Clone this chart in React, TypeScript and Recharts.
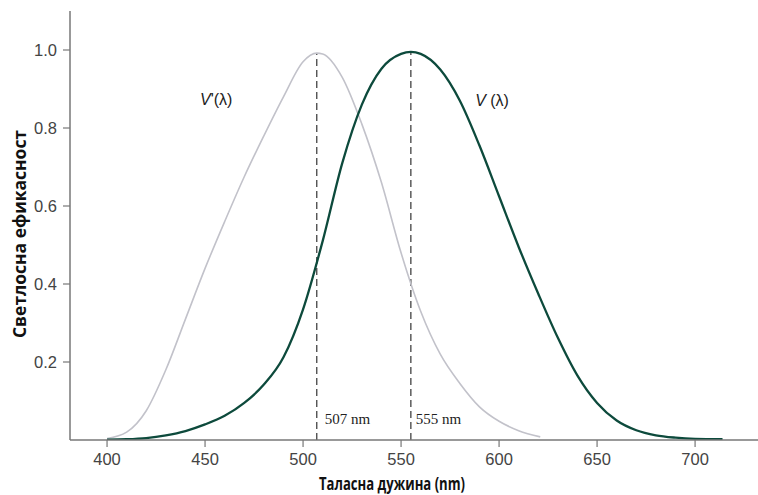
import React from 'react';
import { LineChart, Line, XAxis, YAxis, ReferenceLine, ReferenceDot } from 'recharts';

// photopic curve V(λ)
const photopicNm = [400, 410, 420, 430, 440, 450, 460, 470, 480, 490, 500, 510, 520, 530, 540, 550, 555, 560, 570, 580, 590, 600, 610, 620, 630, 640, 650, 660, 670, 680, 690, 700, 714];
const photopicV = [0.001, 0.002, 0.005, 0.012, 0.023, 0.04, 0.062, 0.095, 0.142, 0.212, 0.335, 0.51, 0.71, 0.86, 0.952, 0.99, 0.995, 0.99, 0.95, 0.87, 0.755, 0.625, 0.495, 0.375, 0.262, 0.165, 0.095, 0.05, 0.025, 0.012, 0.006, 0.003, 0.002];

// scotopic curve V'(λ)
const scotopicNm = [400, 410, 420, 430, 440, 450, 460, 470, 480, 490, 500, 507, 510, 520, 530, 540, 550, 560, 570, 580, 590, 600, 610, 621];
const scotopicV = [0.004, 0.02, 0.075, 0.18, 0.31, 0.44, 0.56, 0.675, 0.78, 0.88, 0.97, 0.992, 0.99, 0.93, 0.81, 0.66, 0.48, 0.33, 0.22, 0.145, 0.085, 0.048, 0.024, 0.008];

const xTicks = [400, 450, 500, 550, 600, 650, 700];
const yTicks = [0.2, 0.4, 0.6, 0.8, 1.0];

const photopic = photopicNm.map((nm, i) => ({ nm, v: photopicV[i] }));
const scotopic = scotopicNm.map((nm, i) => ({ nm, v: scotopicV[i] }));

const sans = "'Liberation Sans', Arial, sans-serif";
const bold = "'Open Sans', 'DejaVu Sans', sans-serif";

const curveLabel = (prime: boolean) => (props: any) => (
  <text x={props.cx} y={props.cy} fontSize={16} fontFamily={sans} fill="#222">
    <tspan fontStyle="italic">V</tspan>
    {prime ? "'(λ)" : ' (λ)'}
  </text>
);

const nmLabel = (txt: string, dx: number) => (props: any) => (
  <text x={props.cx + dx} y={props.cy} fontSize={15} fontFamily="'Liberation Serif', 'Times New Roman', serif" fill="#222">
    {txt}
  </text>
);

export default function App() {
  return (
    <div style={{ position: 'absolute', left: 0, top: 0, background: '#fff' }}>
      <LineChart width={758} height={495} margin={{ top: 11, right: 0, bottom: 0, left: 0 }}>
        <XAxis
          type="number"
          dataKey="nm"
          domain={[381.1, 732.1]}
          ticks={xTicks}
          allowDataOverflow
          height={55}
          tickSize={7}
          tickMargin={6}
          axisLine={{ stroke: '#777', strokeWidth: 1.5 }}
          tickLine={{ stroke: '#777', strokeWidth: 1.2 }}
          tick={{ fill: '#444', fontSize: 16.5, fontFamily: sans }}
          label={{
            content: () => (
              <text x={392} y={490} textAnchor="middle" fontSize={18} fontWeight="bold" fontFamily={bold} fill="#111" textLength={146} lengthAdjust="spacingAndGlyphs">
                Таласна дужина (nm)
              </text>
            ),
          }}
        />
        <YAxis
          type="number"
          domain={[0, 1.1]}
          ticks={yTicks}
          allowDataOverflow
          width={70}
          tickSize={7}
          tickMargin={6}
          tickFormatter={(v: number) => v.toFixed(1)}
          axisLine={{ stroke: '#777', strokeWidth: 1.5 }}
          tickLine={{ stroke: '#777', strokeWidth: 1.2 }}
          tick={{ fill: '#444', fontSize: 16.5, fontFamily: sans }}
          label={{
            content: () => (
              <text x={26} y={234} transform="rotate(-90 26 234)" textAnchor="middle" fontSize={18} fontWeight="bold" fontFamily={bold} fill="#111" textLength={208} lengthAdjust="spacingAndGlyphs">
                Светлосна ефикасност
              </text>
            ),
          }}
        />
        <ReferenceLine segment={[{ x: 507, y: 0 }, { x: 507, y: 0.992 }]} stroke="#333" strokeWidth={1.2} strokeDasharray="7 4" />
        <ReferenceLine segment={[{ x: 555, y: 0 }, { x: 555, y: 0.995 }]} stroke="#333" strokeWidth={1.2} strokeDasharray="7 4" />
        <Line data={scotopic} dataKey="v" type="monotone" stroke="#c2c2ca" strokeWidth={1.6} dot={false} isAnimationActive={false} />
        <Line data={photopic} dataKey="v" type="monotone" stroke="#0d4a3c" strokeWidth={2.3} dot={false} isAnimationActive={false} />
        <ReferenceDot x={447.4} y={0.859} r={0} shape={curveLabel(true)} />
        <ReferenceDot x={587.8} y={0.856} r={0} shape={curveLabel(false)} />
        <ReferenceDot x={507} y={0.041} r={0} shape={nmLabel('507 nm', 8)} />
        <ReferenceDot x={555} y={0.041} r={0} shape={nmLabel('555 nm', 5)} />
      </LineChart>
    </div>
  );
}
